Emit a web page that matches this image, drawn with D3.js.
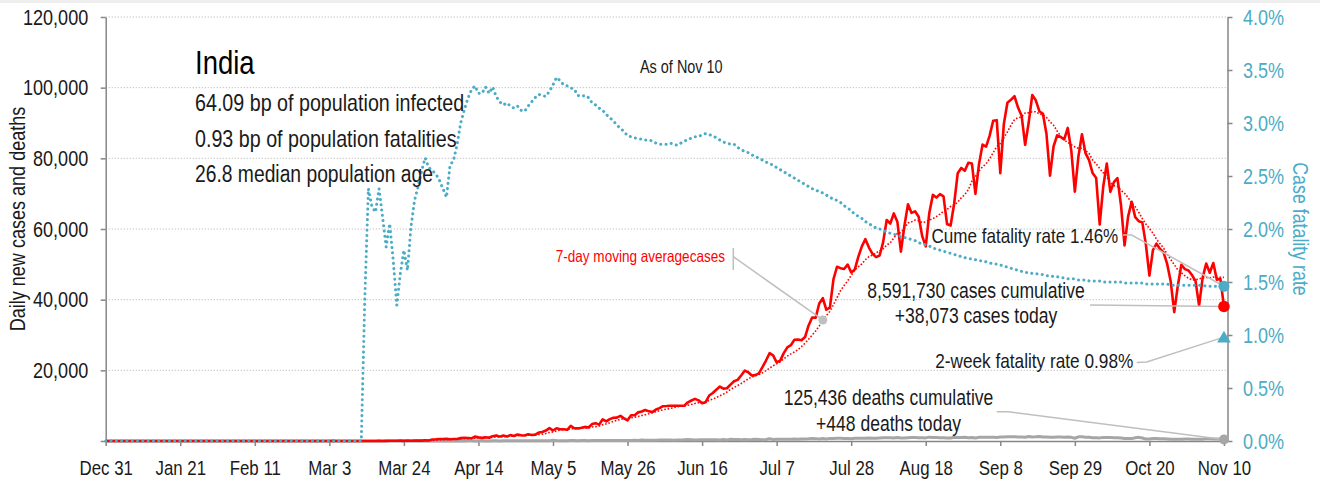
<!DOCTYPE html>
<html>
<head>
<meta charset="utf-8">
<script src="https://cdn.jsdelivr.net/npm/d3@7"></script>
<style>
  body { margin: 0; background: #fff; }
  svg text { font-family: 'Liberation Sans', Arial, sans-serif; }
</style>
</head>
<body>
<svg id="chart" width="1320" height="482"></svg>
<script>
// daily new cases, one value per day starting Dec 31 2019
const casesDec = [0]
const casesJan = [0,0,0,0,0,0,0,0,0,0, 0,0,0,0,0,0,0,0,0,0, 0,0,0,0,0,0,0,0,0,1, 0]
const casesFeb = [0,1,1,0,0,0,0,0,0,0, 0,0,0,0,0,0,0,0,0,0, 0,0,0,0,0,0,0,0,0]
const casesMar = [0,2,1,23,2,1,3,5,4,6, 6,11,9,20,11,6,23,14,38,50, 86,66,103,37,121,70,160,100,112,227, 146]
const casesApr = [437,486,560,579,609,484,573,565,813,871, 854,758,1243,1031,886,1061,922,1371,1580,1239, 1537,1292,1667,1408,1835,1607,1568,1902,1705,1801]
const casesMay = [2396,2564,2952,3656,2971,3602,3344,3339,3175,4311, 3592,3562,3726,3991,3808,4794,5049,4628,6147,5553, 6198,6568,6629,7111,6414,5843,7293,7300,8105,8336, 8782]
const casesJun = [8392,8171,8909,9304,9851,9887,9971,9983,9987,9985, 9996,10956,11458,11929,11502,10667,10974,12881,13586,14516, 15413,14821,14933,15968,16922,17296,18552,19906,19459,18522]
const casesJul = [18653,19148,20903,22771,24850,24248,22252,22752,24879,26506, 27114,28637,28701,28498,29429,32695,34956,34884,38902,40425, 37148,37724,45720,49310,48916,48661,49931,47704,48513,52123, 55079]
const casesAug = [57118,54736,52972,52050,52509,56282,62538,61537,64399,62064, 53601,60963,66999,64553,65002,63490,57981,55079,64531,69652, 68898,69878,69239,61408,60975,67151,75760,77266,76472,78761, 78512]
const casesSep = [69921,78357,83883,83341,86432,90632,90802,75809,89706,95735, 96551,97570,94372,92071,83809,90123,97894,96424,93337,92605, 86961,75083,83347,86508,86052,85362,88600,82170,70589,80472]
const casesOct = [86821,81484,79476,75829,74442,61267,72049,78524,70496,73272, 74383,66732,55342,63509,67708,63371,62212,61871,55722,46790, 54044,55839,54366,53370,50129,45148,36469,43893,49881,48648, 48268]
const casesNov = [46964,45231,38310,46253,50210,47638,50357,45674,45903,38073]

// daily new deaths
const deathsDec = [0]
const deathsJan = [0,0,0,0,0,0,0,0,0,0, 0,0,0,0,0,0,0,0,0,0, 0,0,0,0,0,0,0,0,0,0, 0]
const deathsFeb = [0,0,0,0,0,0,0,0,0,0, 0,0,0,0,0,0,0,0,0,0, 0,0,0,0,0,0,0,0,0]
const deathsMar = [0,0,0,0,0,0,0,0,0,0, 0,1,0,1,0,0,1,0,1,1, 0,2,3,1,2,3,4,3,6,4, 3]
const deathsApr = [3,15,12,13,17,10,35,19,20,17, 40,37,35,31,38,29,23,36,36,31, 50,47,37,37,56,58,50,60,71,67]
const deathsMay = [77,75,83,72,195,126,89,104,96,127, 128,87,122,134,100,120,120,157,134,140, 132,148,137,147,154,146,170,194,175,265, 193]
const deathsJun = [230,204,217,260,273,286,287,206,266,279, 357,396,386,311,325,380,341,336,336,375, 306,445,312,465,418,407,385,410,380,418]
const deathsJul = [507,434,379,442,613,425,467,482,487,475, 519,551,500,553,582,606,687,671,543,681, 587,740,740,764,757,705,708,654,768,775, 779]
const deathsAug = [764,853,771,803,857,904,886,933,861,1007, 871,834,942,1007,996,944,941,876,1092,977, 983,945,912,836,848,1059,1023,1021,1057,948, 971]
const deathsSep = [819,1045,1043,1096,1065,1065,1016,1133,1115,1172, 1209,1201,1114,1136,1054,1290,1132,1174,1247,1133, 1130,1053,1085,1129,1141,1089,1124,1039,776,1179]
const deathsOct = [1181,1095,1069,940,903,884,986,971,963,926, 918,816,706,730,680,895,1033,837,579,587, 717,702,650,650,578,480,488,480,517,563, 551]
const deathsNov = [470,496,490,514,704,670,577,559,490,448]

// cumulative case fatality rate, percent
const cfrDec = [0]
const cfrJan = [0,0,0,0,0,0,0,0,0,0, 0,0,0,0,0,0,0,0,0,0, 0,0,0,0,0,0,0,0,0,0, 0]
const cfrFeb = [0,0,0,0,0,0,0,0,0,0, 0,0,0,0,0,0,0,0,0,0, 0,0,0,0,0,0,0,0,0]
const cfrMar = [0,0,0,0,0,0,0,0,0,0, 0,0,1.35,2.38,2.21,2.16,2.38,2.11,1.83,2.05, 1.70,1.28,1.58,1.80,1.61,2.02,2.27,2.40,2.55,2.67, 2.58]
const cfrApr = [2.55,2.52,2.46,2.38,2.30,2.60,2.65,2.80,3.00,3.12, 3.23,3.31,3.35,3.28,3.28,3.34,3.28,3.34,3.25,3.20, 3.17,3.19,3.16,3.14,3.16,3.12,3.11,3.16,3.20,3.24]
const cfrMay = [3.27,3.26,3.25,3.30,3.36,3.43,3.40,3.36,3.35,3.33, 3.32,3.26,3.25,3.26,3.24,3.19,3.17,3.14,3.12,3.08, 3.05,3.02,2.98,2.95,2.92,2.88,2.87,2.86,2.85,2.85, 2.84]
const cfrJun = [2.84,2.83,2.81,2.80,2.80,2.80,2.81,2.80,2.79,2.81, 2.83,2.84,2.86,2.87,2.87,2.89,2.90,2.89,2.88,2.86, 2.84,2.82,2.81,2.80,2.80,2.77,2.75,2.73,2.72,2.70]
const cfrJul = [2.68,2.67,2.65,2.63,2.62,2.60,2.58,2.56,2.54,2.52, 2.50,2.48,2.46,2.44,2.42,2.40,2.38,2.37,2.35,2.34, 2.32,2.30,2.28,2.27,2.25,2.22,2.20,2.17,2.14,2.12, 2.10]
const cfrAug = [2.07,2.05,2.03,2.01,2.00,1.99,1.97,1.96,1.95,1.94, 1.93,1.92,1.91,1.90,1.89,1.87,1.86,1.85,1.84,1.82, 1.81,1.80,1.79,1.78,1.77,1.76,1.75,1.74,1.73,1.72, 1.72]
const cfrSep = [1.71,1.70,1.70,1.69,1.68,1.67,1.67,1.66,1.65,1.64, 1.63,1.62,1.61,1.60,1.59,1.59,1.58,1.58,1.57,1.57, 1.56,1.56,1.55,1.55,1.54,1.54,1.53,1.53,1.53,1.52]
const cfrOct = [1.52,1.52,1.51,1.51,1.51,1.51,1.50,1.50,1.50,1.50, 1.50,1.50,1.49,1.49,1.49,1.49,1.49,1.49,1.48,1.48, 1.48,1.48,1.48,1.48,1.48,1.47,1.47,1.47,1.47,1.47, 1.47]
const cfrNov = [1.47,1.47,1.47,1.47,1.46,1.46,1.46,1.46,1.46,1.46]

const twoWeekCfr = 0.98
const yTicksLeft = [0, 20000, 40000, 60000, 80000, 100000, 120000]
const yTicksRight = [0, 0.005, 0.01, 0.015, 0.02, 0.025, 0.03, 0.035, 0.04]

const cases = [].concat(casesDec, casesJan, casesFeb, casesMar, casesApr, casesMay, casesJun, casesJul, casesAug, casesSep, casesOct, casesNov)
const deaths = [].concat(deathsDec, deathsJan, deathsFeb, deathsMar, deathsApr, deathsMay, deathsJun, deathsJul, deathsAug, deathsSep, deathsOct, deathsNov)
const cfr = [].concat(cfrDec, cfrJan, cfrFeb, cfrMar, cfrApr, cfrMay, cfrJun, cfrJul, cfrAug, cfrSep, cfrOct, cfrNov)

const start = new Date(Date.UTC(2019, 11, 31))
const dates = cases.map((d, i) => d3.utcDay.offset(start, i))
const lastDate = dates[dates.length - 1]

//7 day trailing moving average of cases
const movingAvg = cases.map((d, i) => (i < 6 ? null : d3.mean(cases.slice(i - 6, i + 1))))

const teal = '#4bacc6',
	red = '#ff0000',
	gray = '#a6a6a6',
	axisGray = '#868686',
	ink = '#1a1a1a'

//squeeze text horizontally so it reads like a condensed face
const narrow = (sel, k = 0.82) =>
	sel.each(function () {
		const w = this.getComputedTextLength()
		d3.select(this).attr('textLength', w * k).attr('lengthAdjust', 'spacingAndGlyphs')
	})

const svg = d3.select('#chart')

svg.append('rect').attr('x', 0).attr('y', 0).attr('width', 1320).attr('height', 3).attr('fill', '#eeeeee')

const xScale = d3
	.scaleUtc()
	.domain([start, d3.utcDay.offset(lastDate, 1)])
	.range([105.7, 1227.5])

const yScale = d3.scaleLinear().domain([0, 120000]).range([441, 17])
const yRight = d3.scaleLinear().domain([0, 0.04]).range([441, 17])

//gridlines
svg
	.append('g')
	.selectAll('line')
	.data(yTicksLeft.filter((d) => d > 0))
	.enter()
	.append('line')
	.attr('x1', xScale.range()[0])
	.attr('x2', xScale.range()[1])
	.attr('y1', (d) => yScale(d))
	.attr('y2', (d) => yScale(d))
	.attr('stroke', '#bdbdbd')
	.attr('stroke-width', 1)
	.attr('stroke-dasharray', '1.2 1.8')

//axes
const xTicks = d3.utcDay.range(start, d3.utcDay.offset(lastDate, 1), 21)

const xAxis = d3
	.axisBottom(xScale)
	.tickValues(xTicks)
	.tickFormat(d3.utcFormat('%b %-d'))
	.tickSize(5)
	.tickSizeOuter(0)
	.tickPadding(14)

const yAxis = d3
	.axisLeft(yScale)
	.tickValues(yTicksLeft)
	.tickFormat((d) => (d === 0 ? '' : d3.format(',')(d)))
	.tickSize(5)
	.tickSizeOuter(0)
	.tickPadding(12.5)

const yAxisRight = d3
	.axisRight(yRight)
	.tickValues(yTicksRight)
	.tickFormat(d3.format('.1%'))
	.tickSize(5)
	.tickSizeOuter(0)
	.tickPadding(10.5)

const gx = svg.append('g').attr('transform', 'translate(0,441)').call(xAxis)
gx.selectAll('text').attr('font-size', 20.5).attr('fill', ink).call(narrow)

const gy = svg.append('g').attr('transform', 'translate(105.7,0)').call(yAxis)
gy.selectAll('text').attr('font-size', 22).attr('fill', ink).call(narrow)

const gr = svg.append('g').attr('transform', 'translate(1227.5,0)').call(yAxisRight)
gr.selectAll('text').attr('font-size', 22).attr('fill', teal).call(narrow)

svg.selectAll('.domain, .tick line').attr('stroke', axisGray).attr('stroke-width', 1.5)

//axis titles
svg
	.append('text')
	.attr('transform', 'translate(25,219) rotate(-90)')
	.attr('text-anchor', 'middle')
	.attr('font-size', 22)
	.attr('fill', ink)
	.text('Daily new cases and deaths')
	.call(narrow)

svg
	.append('text')
	.attr('transform', 'translate(1293,229) rotate(90)')
	.attr('text-anchor', 'middle')
	.attr('font-size', 21.7)
	.attr('fill', teal)
	.text('Case fatality rate')
	.call(narrow)

//series
const lineLeft = (arr) =>
	d3
		.line()
		.defined((d) => d !== null)
		.x((d, i) => xScale(dates[i]))
		.y((d) => yScale(d))(arr)

svg
	.append('path')
	.attr('d', lineLeft(deaths))
	.attr('fill', 'none')
	.attr('stroke', gray)
	.attr('stroke-width', 3)
	.attr('stroke-linejoin', 'round')

svg
	.append('path')
	.attr('d', lineLeft(cases))
	.attr('fill', 'none')
	.attr('stroke', red)
	.attr('stroke-width', 2.6)
	.attr('stroke-linejoin', 'round')

svg
	.append('path')
	.attr('d', lineLeft(movingAvg))
	.attr('fill', 'none')
	.attr('stroke', red)
	.attr('stroke-width', 1.6)
	.attr('stroke-dasharray', '1.6 1.8')

const cfrLine = d3
	.line()
	.x((d, i) => xScale(dates[i]))
	.y((d) => yRight(d / 100))

svg
	.append('path')
	.attr('d', cfrLine(cfr))
	.attr('fill', 'none')
	.attr('stroke', teal)
	.attr('stroke-width', 3)
	.attr('stroke-linecap', 'round')
	.attr('stroke-dasharray', '0.1 5.2')

//annotations
const xLast = xScale(lastDate)
const leaderColor = '#bfbfbf'

const leaders = [
	[[733.3, 256.7], [xScale(dates[202]), yScale(movingAvg[202])]],
	[[1123, 235], [1131.7, 235], [xLast, yRight(cfr[cfr.length - 1] / 100)]],
	[[1090, 305], [xLast, yScale(cases[cases.length - 1])]],
	[[1136.7, 362.5], [1146.7, 362], [xLast, yRight(twoWeekCfr / 100)]],
	[[996.7, 411.7], [1008.3, 411.7], [xLast, yScale(deaths[deaths.length - 1])]],
]

svg
	.append('g')
	.selectAll('path')
	.data(leaders)
	.enter()
	.append('path')
	.attr('d', (d) => d3.line()(d))
	.attr('fill', 'none')
	.attr('stroke', leaderColor)
	.attr('stroke-width', 1.5)

svg.append('line').attr('x1', 733.3).attr('x2', 733.3).attr('y1', 248).attr('y2', 270).attr('stroke', leaderColor).attr('stroke-width', 1.5)

//markers at the last day
svg.append('circle').attr('cx', xScale(dates[202])).attr('cy', yScale(movingAvg[202])).attr('r', 4.5).attr('fill', leaderColor)
svg.append('circle').attr('cx', xLast).attr('cy', yScale(deaths[deaths.length - 1])).attr('r', 5).attr('fill', gray)
svg.append('circle').attr('cx', xLast).attr('cy', yScale(cases[cases.length - 1])).attr('r', 5.8).attr('fill', red)
svg.append('circle').attr('cx', xLast).attr('cy', yRight(cfr[cfr.length - 1] / 100)).attr('r', 5.5).attr('fill', teal)
svg
	.append('path')
	.attr('d', d3.symbol().type(d3.symbolTriangle).size(80)())
	.attr('transform', 'translate(' + xLast + ',' + (yRight(twoWeekCfr / 100) + 1.5) + ')')
	.attr('fill', teal)

//text blocks
const addText = (x, y, size, anchor, color, str) =>
	svg
		.append('text')
		.attr('x', x)
		.attr('y', y)
		.attr('font-size', size)
		.attr('text-anchor', anchor)
		.attr('fill', color)
		.text(str)
		.call(narrow)

addText(195, 74, 33.5, 'start', '#000', 'India')
addText(195, 111, 24, 'start', ink, '64.09 bp of population infected')
addText(195, 146.5, 24, 'start', ink, '0.93 bp of population fatalities')
addText(195, 182, 23.5, 'start', ink, '26.8 median population age')
addText(640, 72.7, 17.6, 'start', ink, 'As of Nov 10')
addText(725, 261.5, 16.5, 'end', red, '7-day moving averagecases')

const fmt = d3.format(',')
addText(1118.3, 242.7, 20.8, 'end', ink, 'Cume fatality rate ' + cfr[cfr.length - 1].toFixed(2) + '%')
addText(976, 298.3, 21.4, 'middle', ink, fmt(8591730) + ' cases cumulative')
addText(976, 323.3, 21.4, 'middle', ink, '+' + fmt(cases[cases.length - 1]) + ' cases today')
addText(1133.3, 368.3, 21, 'end', ink, '2-week fatality rate ' + twoWeekCfr.toFixed(2) + '%')
addText(888.5, 405, 21.4, 'middle', ink, fmt(125436) + ' deaths cumulative')
addText(888.5, 430.7, 21.4, 'middle', ink, '+' + fmt(deaths[deaths.length - 1]) + ' deaths today')
</script>
</body>
</html>
